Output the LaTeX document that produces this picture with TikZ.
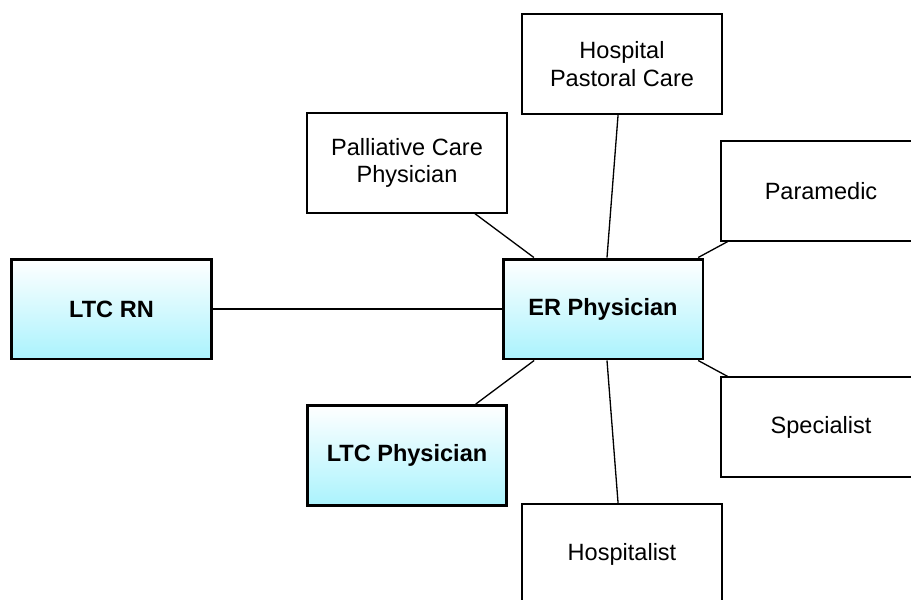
\documentclass[tikz,border=0pt]{standalone}
\usepackage{fontspec}
\setmainfont{Liberation Sans}
\definecolor{ltccyan}{RGB}{170,243,253}

\begin{document}
\begin{tikzpicture}[x=0.02cm, y=-0.02cm,
	role/.style={draw, line width=0.75pt, minimum width=4cm, minimum height=2cm, inner sep=0pt, align=center, font=\fontsize{13.4}{15.8}\selectfont},
	keyrole/.style={role, line width=1.7pt, top color=white, bottom color=ltccyan, font=\fontsize{13.4}{15.8}\selectfont\bfseries},
	link/.style={line width=0.75pt}]
	\useasboundingbox (0,0) rectangle (911,599);
	\clip (0,0) rectangle (911,599);
	% central and LTC boxes
	\node[keyrole] (ltcrn) at (111.5,309) {LTC RN};
	\node[keyrole] (er) at (603,309) {ER Physician};
	\node[keyrole] (ltcdoc) at (407,455.5) {LTC Physician};
	% hospital side
	\node[role] (palliative) at (407,163) {Palliative Care\\Physician};
	\node[role] (pastoral) at (622,64) {Hospital\\Pastoral Care};
	\node[role] (paramedic) at (821,191) {Paramedic};
	\node[role] (specialist) at (821,427) {Specialist};
	\node[role] (hospitalist) at (622,554) {Hospitalist};
	\foreach \n in {ltcrn,ltcdoc,palliative,pastoral,paramedic,specialist,hospitalist}
		{\draw[link] (er) -- (\n);}
\end{tikzpicture}
\end{document}
